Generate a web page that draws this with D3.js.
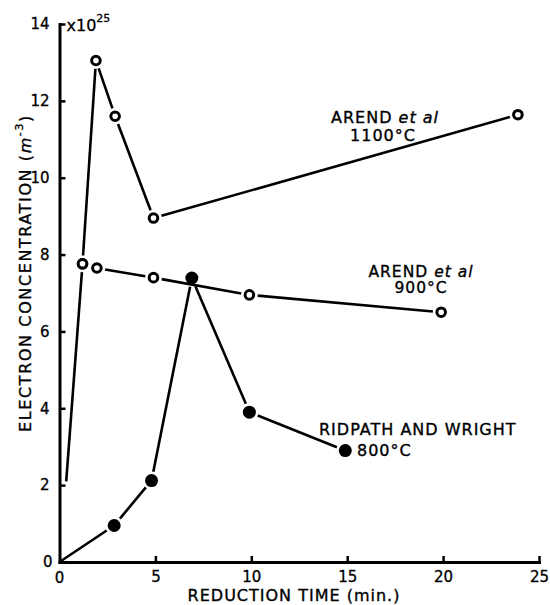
<!DOCTYPE html>
<html><head><meta charset="utf-8">
<script src="https://cdn.jsdelivr.net/npm/d3@7"></script>
<style>
html,body{margin:0;padding:0;background:#fff;}
svg{display:block;font-family:"DejaVu Sans",sans-serif;}
</style></head>
<body><svg id="chart" width="550" height="605"></svg>
<script>
// ---- data (electron concentration in units of 1e25 m^-3 vs reduction time, min) ----
const arend1100Time = [1.2, 1.9, 2.9, 4.9, 23.9];
const arend1100Conc = [7.76, 13.05, 11.6, 8.95, 11.64];
const arend900Time  = [0.35, 1.2, 1.95, 4.9, 9.9, 19.9];
const arend900Conc  = [2.1, 7.76, 7.65, 7.4, 6.95, 6.5];
const ridpathTime   = [0, 2.85, 4.8, 6.9, 9.9, 14.9];
const ridpathConc   = [0, 0.95, 2.12, 7.39, 3.9, 2.9];
const xTicks = [0, 5, 10, 15, 20, 25];
const yTicks = [0, 2, 4, 6, 8, 10, 12, 14];

const svg = d3.select("#chart");
const x = d3.scaleLinear().domain([0, 25]).range([59.5, 539]);
const y = d3.scaleLinear().domain([0, 14]).range([562, 24]);

// axes
const xAxis = d3.axisBottom(x).tickValues(xTicks.filter(d => d > 0)).tickFormat(d3.format("d"))
  .tickSizeInner(-6).tickSizeOuter(0).tickPadding(9);
const yAxis = d3.axisLeft(y).tickValues(yTicks.filter(d => d > 0)).tickFormat(d3.format("d"))
  .tickSizeInner(-6).tickSizeOuter(0).tickPadding(10);

const gx = svg.append("g").attr("transform", `translate(0,${y(0)})`).call(xAxis);
const gy = svg.append("g").attr("transform", `translate(${x(0)},0)`).call(yAxis);
[gx, gy].forEach(g => {
  g.select(".domain").attr("stroke", "#000").attr("stroke-width", 3).attr("stroke-linecap", "square");
  g.selectAll(".tick line").attr("stroke", "#000").attr("stroke-width", 2.5);
  g.selectAll(".tick text").attr("fill", "#000").attr("font-size", 15)
    .attr("font-family", "DejaVu Sans, sans-serif").attr("stroke", "#000").attr("stroke-width", 0.3);
});
// zero labels at the origin
svg.append("text").attr("x", x(0)).attr("y", y(0) + 21).attr("text-anchor", "middle")
  .attr("font-size", 15).attr("stroke", "#000").attr("stroke-width", 0.3).text(xTicks[0]);
svg.append("text").attr("x", x(0) - 7).attr("y", y(0)).attr("dy", "0.35em").attr("text-anchor", "end")
  .attr("font-size", 15).attr("stroke", "#000").attr("stroke-width", 0.3).text(yTicks[0]);

// multiplier
const mult = svg.append("text").attr("x", x(0) + 7).attr("y", y(14) + 7).attr("font-size", 16)
  .attr("stroke", "#000").attr("stroke-width", 0.3);
mult.append("tspan").text("x10");
mult.append("tspan").attr("font-size", 11).attr("dy", -9).text("25");

// series drawing
const openR = 4.3, fillR = 6.5, gap = 2.5;
function drawSeries(times, concs, filled, firstMarked) {
  const pts = times.map((t, i) => ({px: x(t), py: y(concs[i]), marked: i > 0 || firstMarked}));
  const rOuter = filled ? fillR : openR + 1.5;
  for (let i = 0; i < pts.length - 1; i++) {
    const a = pts[i], b = pts[i + 1];
    const dx = b.px - a.px, dy = b.py - a.py, L = Math.hypot(dx, dy);
    const ta = a.marked ? rOuter + gap : 0, tb = b.marked ? rOuter + gap : 0;
    if (L <= ta + tb) continue;
    svg.append("line")
      .attr("x1", a.px + dx * ta / L).attr("y1", a.py + dy * ta / L)
      .attr("x2", b.px - dx * tb / L).attr("y2", b.py - dy * tb / L)
      .attr("stroke", "#000").attr("stroke-width", 2.6);
  }
  pts.filter(p => p.marked).forEach(p => {
    const c = svg.append("circle").attr("cx", p.px).attr("cy", p.py);
    if (filled) c.attr("r", fillR).attr("fill", "#000");
    else c.attr("r", openR).attr("fill", "#fff").attr("stroke", "#000").attr("stroke-width", 3);
  });
}
drawSeries(arend1100Time, arend1100Conc, false, true);
drawSeries(arend900Time, arend900Conc, false, false);
drawSeries(ridpathTime, ridpathConc, true, false);

// annotations
function label(cx, yb, parts, anchor, size) {
  const t = svg.append("text").attr("x", cx).attr("y", yb).attr("text-anchor", anchor || "middle")
    .attr("font-size", size || 16).attr("letter-spacing", 1).attr("stroke", "#000").attr("stroke-width", 0.35);
  parts.forEach(p => t.append("tspan").attr("font-style", p.it ? "italic" : null).text(p.s));
  return t;
}
label(385, 123, [{s: "AREND "}, {s: "et al", it: true}]);
label(383, 141, [{s: "1100°C"}]);
label(421, 277, [{s: "AREND "}, {s: "et al", it: true}], "middle", 15.5);
label(421, 293, [{s: "900°C"}], "middle", 15.5);
label(319, 435, [{s: "RIDPATH AND WRIGHT"}], "start");
label(357, 456, [{s: "800°C"}], "start");

// axis titles
label(294, 601, [{s: "REDUCTION TIME (min.)"}]);
const yt = svg.append("text").attr("transform", "translate(31,273) rotate(-90)").attr("text-anchor", "middle")
  .attr("font-size", 16).attr("letter-spacing", 1.6).attr("stroke", "#000").attr("stroke-width", 0.35);
yt.append("tspan").text("ELECTRON CONCENTRATION (");
yt.append("tspan").attr("font-style", "italic").text("m");
yt.append("tspan").attr("font-size", 11).attr("dy", -8).text("-3");
yt.append("tspan").attr("dy", 8).text(")");
</script></body></html>
